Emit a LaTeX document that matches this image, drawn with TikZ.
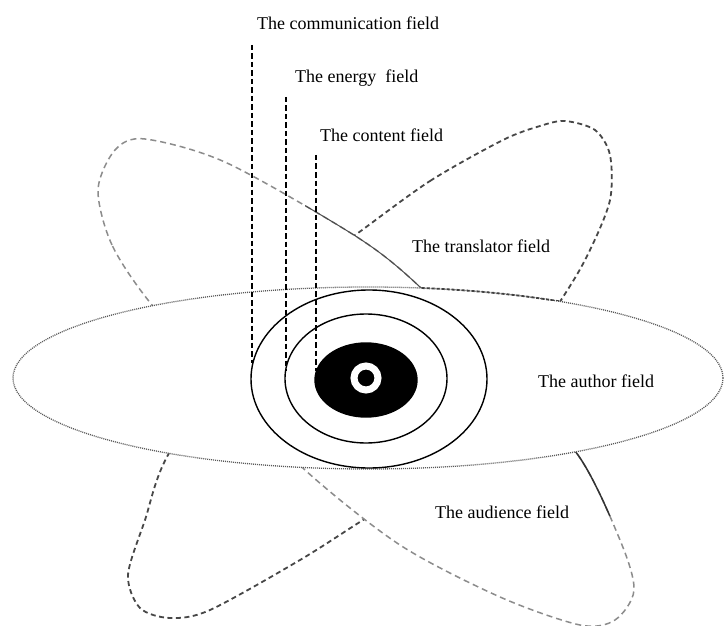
\documentclass[tikz,border=0pt]{standalone}
\usepackage{fontspec}
\setmainfont{Liberation Serif}
\usetikzlibrary{shapes.geometric}
\begin{document}
\begin{tikzpicture}[x=1pt,y=-1pt,
  darkpetal/.style={draw=black!72, line width=1.8pt, dash pattern=on 5pt off 3.5pt, fill=white},
  graypetal/.style={draw=black!45, line width=1.5pt, dash pattern=on 6pt off 4pt, fill=white},
  authorline/.style={draw=black!65, line width=1.3pt, dash pattern=on 1pt off 1pt, fill=white},
  ringshape/.style={ellipse, draw=black, line width=1.4pt, inner sep=0pt, outer sep=0pt},
  guide/.style={draw=black, line width=2pt, dash pattern=on 5.5pt off 3pt},
  fieldtext/.style={anchor=base west, inner sep=0pt, font=\fontsize{18}{20}\selectfont}
]
\useasboundingbox (0,0) rectangle (724,626);

% outlines of the two crossed petals
\path[save path=\darkpath] plot[smooth cycle] coordinates {
  (358,233) (430,181) (503,140) (540,126) (565,121) (595,130) (610,155) (610,200)
  (590,250) (563,297) (480,420) (420,485) (363,520) (300,560) (210,610) (170,618)
  (140,608) (128,575) (145,520) (168,455) (240,350) (300,275)};
\path[save path=\graypath] plot[smooth cycle] coordinates {
  (152,305) (112,245) (98,190) (115,150) (145,139) (227,163) (357,237) (420,287)
  (500,370) (578,455) (620,540) (634,590) (615,620) (580,625) (500,597) (400,545)
  (305,470) (230,390)};

% translator / audience petal (dark)
\path[darkpetal, use path=\darkpath];
% grey petal
\path[graypetal, use path=\graypath];

% darker overlaps along the grey outline
\begin{scope}
  \clip (305,195) rectangle (425,292);
  \draw[black!70, line width=1pt, use path=\graypath];
\end{scope}
\begin{scope}
  \clip (570,445) rectangle (616,515);
  \draw[black!80, line width=1.5pt, use path=\graypath];
\end{scope}

% author field
\node[ellipse, authorline, minimum width=710pt, minimum height=182pt, inner sep=0pt, outer sep=0pt] (author) at (368,378) {};
\begin{scope}
  \clip (420,270) rectangle (566,300);
  \draw[black!75, line width=1.8pt, dash pattern=on 3pt off 2pt] (author.center) ellipse [x radius=355pt, y radius=91pt];
\end{scope}

% concentric fields
\node[ringshape, minimum width=236pt, minimum height=178pt] (comm) at (369,379) {};
\node[ringshape, minimum width=162pt, minimum height=129pt] (energy) at (366,378.5) {};
\node[ringshape, fill=black, minimum width=102pt, minimum height=74pt] (content) at (366,380) {};
\node[circle, draw=white, line width=7pt, minimum size=24pt, inner sep=0pt] (core) at (366,378) {};

% guide lines
\coordinate (g1) at (251.5,45);
\coordinate (g2) at (285.5,97);
\coordinate (g3) at (315.5,155);
\draw[guide] (g1) -- (g1 |- comm.172);
\draw[guide] (g2) -- (g2 |- energy.175);
\draw[guide] (g3) -- (g3 |- content.170);

% labels
\node[fieldtext] (tcomm) at (257,30) {The communication field};
\node[fieldtext] (tenergy) at (295,83) {The energy\ \ field};
\node[fieldtext] (tcontent) at (320,142) {The content field};
\node[fieldtext] (ttrans) at (412,252) {The translator field};
\node[fieldtext] (tauthor) at (538,387) {The author field};
\node[fieldtext] (taud) at (435,518) {The audience field};
\end{tikzpicture}
\end{document}
